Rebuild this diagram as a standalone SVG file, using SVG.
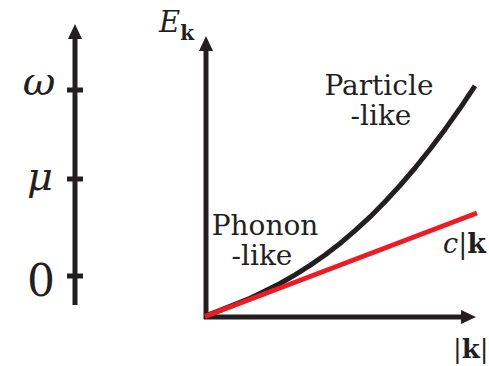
<svg xmlns="http://www.w3.org/2000/svg" width="489" height="366" viewBox="0 0 489 366">
<style>
.ax{stroke:#231f20;stroke-width:5;fill:none}
.hd{fill:#231f20}
text{font-family:'DejaVu Serif','Liberation Serif',serif;fill:#231f20}
.it{font-style:italic}
.b{font-weight:bold}
</style>
<rect width="489" height="366" fill="#fff"/>
<g id="energy-scale">
<line class="ax" x1="75" y1="36" x2="75" y2="305"/>
<polygon class="hd" points="75,24 68,39 82,39"/>
<line class="ax" x1="67" y1="90" x2="83" y2="90"/>
<line class="ax" x1="67" y1="179" x2="83" y2="179"/>
<line class="ax" x1="67" y1="276" x2="83" y2="276"/>
<text class="it" x="39" y="95" font-size="40" text-anchor="middle">ω</text>
<text class="it" x="40" y="190" font-size="40" text-anchor="middle">μ</text>
<text x="41" y="296" font-size="44" text-anchor="middle">0</text>
</g>
<g id="axes">
<line class="ax" x1="206" y1="48" x2="206" y2="319"/>
<polygon class="hd" points="206,36 199,51 213,51"/>
<line class="ax" x1="204" y1="317" x2="465" y2="317"/>
<polygon class="hd" points="476,317 461,310 461,324"/>
<text x="159" y="32" font-size="29"><tspan class="it">E</tspan><tspan class="b" font-size="20" dy="8">k</tspan></text>
<text x="453" y="358" font-size="26">|<tspan class="b">k</tspan>|</text>
</g>
<g id="curves">
<polyline fill="none" stroke="#231f20" stroke-width="5" stroke-linejoin="round" points="205,316 220,310.3 235,304.4 250,298.2 265,291.1 280,283.5 295,274.9 310,265.4 325,255 340,243.5 355,230.7 370,216.9 385,201.8 400,185.5 415,168 430,149.3 445,129.4 460,108.3 475,85.8"/>
<line x1="205" y1="316.5" x2="477" y2="213" stroke="#ed1c24" stroke-width="5"/>
</g>
<g id="labels">
<text x="265" y="235" font-size="28" text-anchor="middle">Phonon</text>
<text x="262" y="265" font-size="28" text-anchor="middle">-like</text>
<text x="379" y="95" font-size="28" text-anchor="middle">Particle</text>
<text x="381" y="125" font-size="28" text-anchor="middle">-like</text>
<text x="443" y="253" font-size="27"><tspan class="it">c</tspan>|<tspan class="b">k</tspan></text>
</g>
</svg>
